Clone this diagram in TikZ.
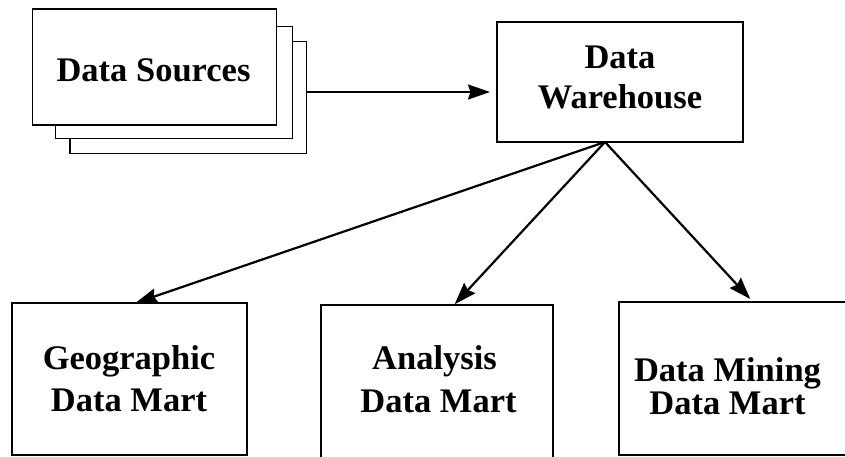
\documentclass[tikz,border=0pt]{standalone}
\usepackage{fontspec}
\setmainfont{Liberation Serif}
\usetikzlibrary{arrows.meta}
\begin{document}
\begin{tikzpicture}[x=1pt,y=1pt,
  box/.style={draw=black, line width=1.4pt, fill=white, rectangle, inner sep=0pt, outer sep=0pt, anchor=north west},
  lbl/.style={anchor=base, inner sep=0pt, font=\fontsize{34.5}{40}\selectfont\bfseries},
  conn/.style={line width=2.2pt, -{Stealth[length=22pt,width=15pt,inset=2.5pt]}}]
\useasboundingbox (0,0) rectangle (845,457);
\fill[white] (0,0) rectangle (845,457);
\clip (0,0) rectangle (845,457);
% data sources stack
\node[box, minimum width=236.7pt, minimum height=111.6pt] (ds3) at (70,415.3) {};
\node[box, minimum width=237pt, minimum height=111.6pt] (ds2) at (55.7,430.3) {};
\node[box, minimum width=244.4pt, minimum height=116pt] (ds1) at (32.3,448) {};
\node[lbl] (tds) at (153.5,375) {Data Sources};
% data warehouse
\node[box, minimum width=246pt, minimum height=120pt] (dw) at (497,435) {};
\node[lbl] (tdw1) at (620,388) {Data};
\node[lbl] (tdw2) at (620,348.7) {Warehouse};
% data marts
\node[box, minimum width=235pt, minimum height=152pt] (geo) at (12,154) {};
\node[lbl] (tg1) at (129,87) {Geographic};
\node[lbl] (tg2) at (129,45.3) {Data Mart};
\node[box, minimum width=232pt, minimum height=170pt] (ana) at (321,152) {};
\node[lbl] (ta1) at (434.5,87) {Analysis};
\node[lbl] (ta2) at (438.5,44) {Data Mart};
\node[box, minimum width=240pt, minimum height=153pt] (dm) at (619,155) {};
\node[lbl] (tm1) at (727.5,75.3) {Data Mining};
\node[lbl] (tm2) at (727.5,42) {Data Mart};
% connectors
\coordinate (apex) at ([xshift=-15pt]dw.south);
\draw[conn, shorten >=7pt] (ds3.east |- 0,365) -- (dw.west |- 0,365);
\draw[conn] (apex) -- ([xshift=6pt]geo.north);
\draw[conn, shorten >=1pt] (apex) -- ([xshift=17pt]ana.north);
\draw[conn, shorten >=4pt] (apex) -- ([xshift=134pt]dm.north west);
\end{tikzpicture}
\end{document}
